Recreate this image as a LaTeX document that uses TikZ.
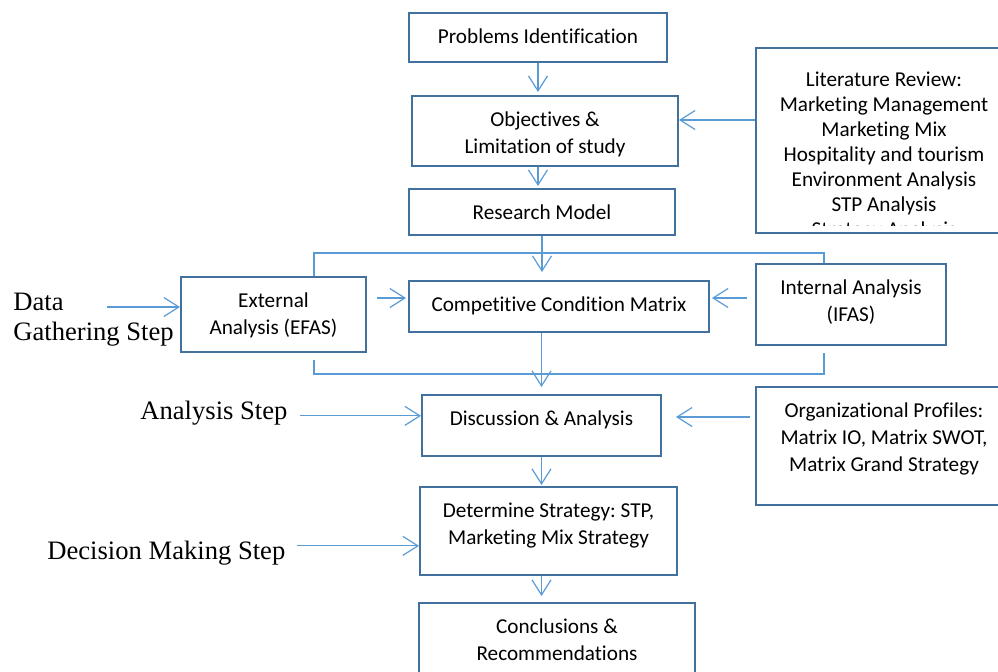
\documentclass[tikz,border=0pt]{standalone}
\usepackage{fontspec}
\setmainfont{Carlito}[Ligatures=NoCommon]
\newfontfamily\timesfont{Liberation Serif}
\usetikzlibrary{arrows.meta,positioning}
\definecolor{boxblue}{HTML}{41719C}
\definecolor{arrowblue}{HTML}{5B9BD5}
\frenchspacing

\begin{document}
\begin{tikzpicture}[x=0.5pt,y=-0.5pt,
 plainbox/.style={draw=boxblue,line width=1pt,inner sep=0pt},
 box/.style={plainbox,label={[boxtext]north:{#1}}},
 boxtext/.style={anchor=north,yshift=-8.3pt,inner sep=0pt,align=center,font=\fontsize{10.6}{13.5}\selectfont},
 steplbl/.style={inner sep=0pt,font=\timesfont\fontsize{13.3}{15}\selectfont},
 conn/.style={draw=arrowblue,line width=0.6pt},
 arr/.style={conn,-{Straight Barb[length=7.5pt,width=9.5pt]}}]
\useasboundingbox (0,0) rectangle (998,671);
\clip (0,0) rectangle (998,671);

% main column
\node[box={Problems Identification},minimum width=129pt,minimum height=24.5pt] (prob) at (538,37.5) {};
\node[box={Objectives \&\\Limitation of study},minimum width=133pt,minimum height=35pt] (obj) at (545,131) {};
\node[box={Research Model},minimum width=133pt,minimum height=23pt] (rm) at (542,212) {};
\node[box={External\\Analysis (EFAS)},minimum width=92.5pt,minimum height=37.5pt] (ext) at (273.5,314.5) {};
\node[box={Competitive Condition Matrix},minimum width=150pt,minimum height=25.5pt] (comp) at (559,306.5) {};
\node[box={Internal Analysis\\(IFAS)},minimum width=95pt,minimum height=40.5pt] (int) at (851,304.5) {};
\node[box={Discussion \& Analysis},minimum width=119.5pt,minimum height=30.5pt] (disc) at (541.5,425.5) {};
\node[box={Determine Strategy: STP,\\Marketing Mix Strategy},minimum width=128.5pt,minimum height=44pt] (det) at (548.5,531) {};
\node[box={Conclusions \&\\Recommendations},minimum width=138pt,minimum height=48.5pt] (conc) at (557,651.5) {};

% side inputs
\node[plainbox,minimum width=128pt,minimum height=92.5pt] (lit) at (884,140.5) {};
\begin{scope}
 \clip (lit.north west) rectangle ([yshift=4.5pt]lit.south east);
 \node[boxtext,yshift=-4pt,font=\fontsize{10.6}{12.5}\selectfont] (littext) at (lit.north)
  {Literature Review:\\Marketing Management\\Marketing Mix\\Hospitality and tourism\\Environment Analysis\\STP Analysis\\Strategy Analysis};
\end{scope}
\node[box={Organizational Profiles:\\Matrix IO, Matrix SWOT,\\Matrix Grand Strategy},minimum width=128pt,minimum height=59pt] (org) at (884,446) {};

% step labels
\node[steplbl,align=left,anchor=north west] (gather) at (13,292.5) {Data\\Gathering Step};
\coordinate (gatherout) at (107,307);
\node[steplbl,anchor=base west] (astep) at (140,419) {Analysis Step};
\node[steplbl,anchor=base west] (dstep) at (47,559) {Decision Making Step};

% connectors
\draw[arr,shorten >=1.5pt] (prob) -- (prob |- obj.north);
\draw[arr,shorten >=1pt] (obj.south -| prob) -- (rm.north -| prob);
\draw[arr] ([yshift=5.5pt]obj.east -| lit.west) -- ([yshift=5.5pt]obj.east);
\draw[arr,shorten >=4pt] (rm) -- (rm |- comp.north);
\draw[conn] ([xshift=20.25pt]ext.north) |- ([xshift=-13.5pt,yshift=5pt]int.north) -- ([xshift=-13.5pt]int.north);
\draw[conn] ([xshift=20.25pt,yshift=-3.5pt]ext.south) |- ([xshift=-13.5pt,yshift=-14pt]int.south) -- ([xshift=-13.5pt,yshift=-3.5pt]int.south);
\draw[arr,shorten <=5pt,shorten >=1pt] ([yshift=4.25pt]comp.west -| ext.east) -- ([yshift=4.25pt]comp.west);
\draw[arr,shorten <=4pt,shorten >=1pt] ([yshift=4.25pt]comp.east -| int.west) -- ([yshift=4.25pt]comp.east);
\draw[arr,shorten >=3.5pt] (disc.north |- comp.south) -- (disc.north);
\draw[arr,shorten <=2.5pt,shorten >=7pt] ([yshift=4.25pt]disc.east -| org.west) -- ([yshift=4.25pt]disc.east);
\draw[arr,shorten >=0.5pt] (disc) -- (disc |- det.north);
\draw[arr,shorten >=3pt] (det.south -| disc) -- (conc.north -| disc);
\draw[arr] (gatherout) -- (gatherout -| ext.west);
\draw[arr,shorten <=6pt] ([yshift=-1.6pt]astep.east) -- ([yshift=-1.6pt]astep.east -| disc.west);
\draw[arr,shorten <=5.5pt] ([yshift=3.4pt]dstep.east) -- ([yshift=3.4pt]dstep.east -| det.west);
\end{tikzpicture}
\end{document}
